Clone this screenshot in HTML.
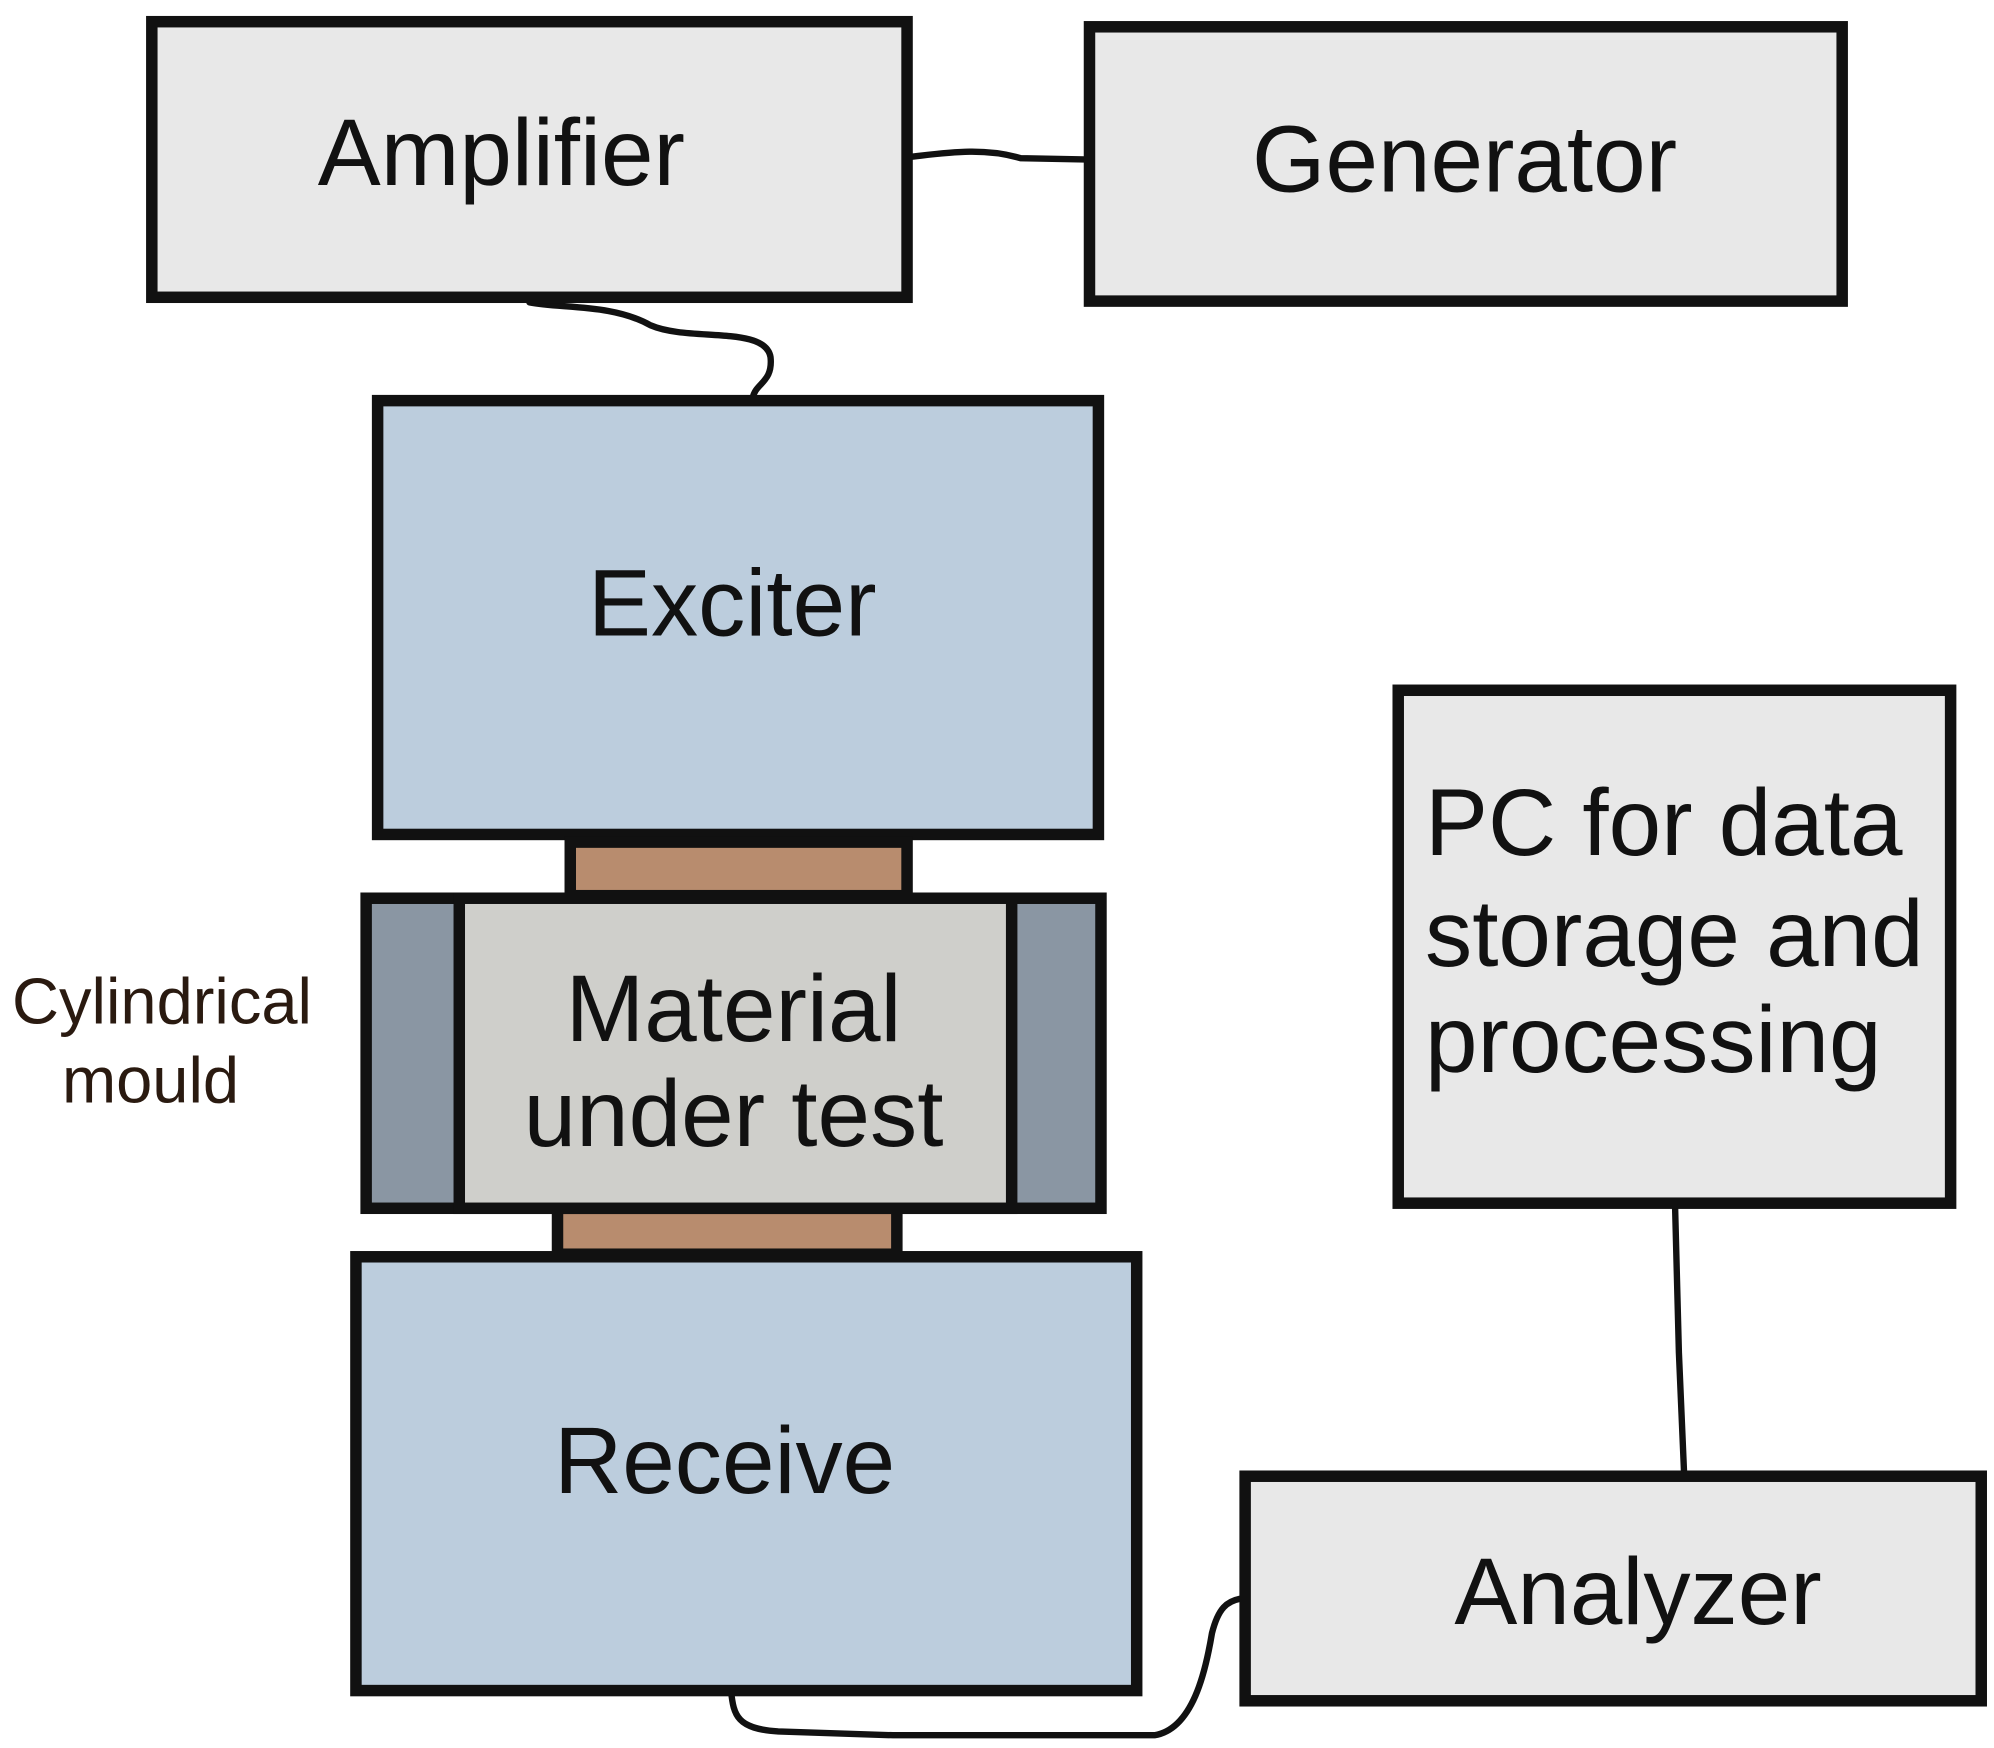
<!DOCTYPE html>
<html><head><style>html,body{margin:0;padding:0;background:#fff}svg{display:block}</style></head><body>
<svg width="1994" height="1748" viewBox="0 0 1563 1370" preserveAspectRatio="none" xmlns="http://www.w3.org/2000/svg" font-family="Liberation Sans, Arial, sans-serif">
<rect width="1563" height="1370" fill="#fff"/>
<g fill="none" stroke="#111" stroke-width="5" stroke-linecap="round">
<path d="M713,123 C740,120 770,115 800,124 L850,125"/>
<path d="M415,237 C440,242 480,238 510,255 C540,268 600,255 604,280 C606,300 592,300 590,312"/>
<path d="M1313,945 L1316,1060 L1320,1153"/>
<path d="M573,1325 C575,1345 578,1355 610,1357 L700,1360 L905,1360 C935,1355 945,1310 950,1280 C955,1260 962,1255 972,1253"/>
</g>
<g stroke="#111" stroke-width="9">
<rect x="119" y="17" width="592" height="216" fill="#e8e8e8"/>
<rect x="854" y="21" width="590" height="215" fill="#e8e8e8"/>
<rect x="296" y="314" width="565" height="340" fill="#bccddd"/>
<rect x="447" y="660" width="264" height="42" fill="#b88c6e"/>
<rect x="437" y="947" width="266" height="36" fill="#b88c6e"/>
<rect x="287" y="704" width="576" height="243" fill="#8a96a3"/>
<rect x="360" y="704" width="433" height="243" fill="#cfcfcb"/>
<rect x="279" y="985" width="612" height="340" fill="#bccddd"/>
<rect x="1096" y="541" width="433" height="402" fill="#e8e8e8"/>
<rect x="976" y="1157" width="577" height="176" fill="#e8e8e8"/>
</g>
<g fill="#111" font-size="74" text-anchor="middle">
<text x="393" y="145">Amplifier</text>
<text x="1148" y="150">Generator</text>
<text x="574" y="498">Exciter</text>
<text x="575" y="816">Material</text>
<text x="575" y="898">under test</text>
<text x="568" y="1170">Receive</text>
<text x="1284" y="1273">Analyzer</text>
<text x="1117" y="670" text-anchor="start">PC for data</text>
<text x="1117" y="757" text-anchor="start">storage and</text>
<text x="1117" y="840" text-anchor="start">processing</text>
</g>
<g fill="#2a1a10" font-size="51" text-anchor="middle">
<text x="127" y="802">Cylindrical</text>
<text x="118" y="864">mould</text>
</g>
</svg>
</body></html>
